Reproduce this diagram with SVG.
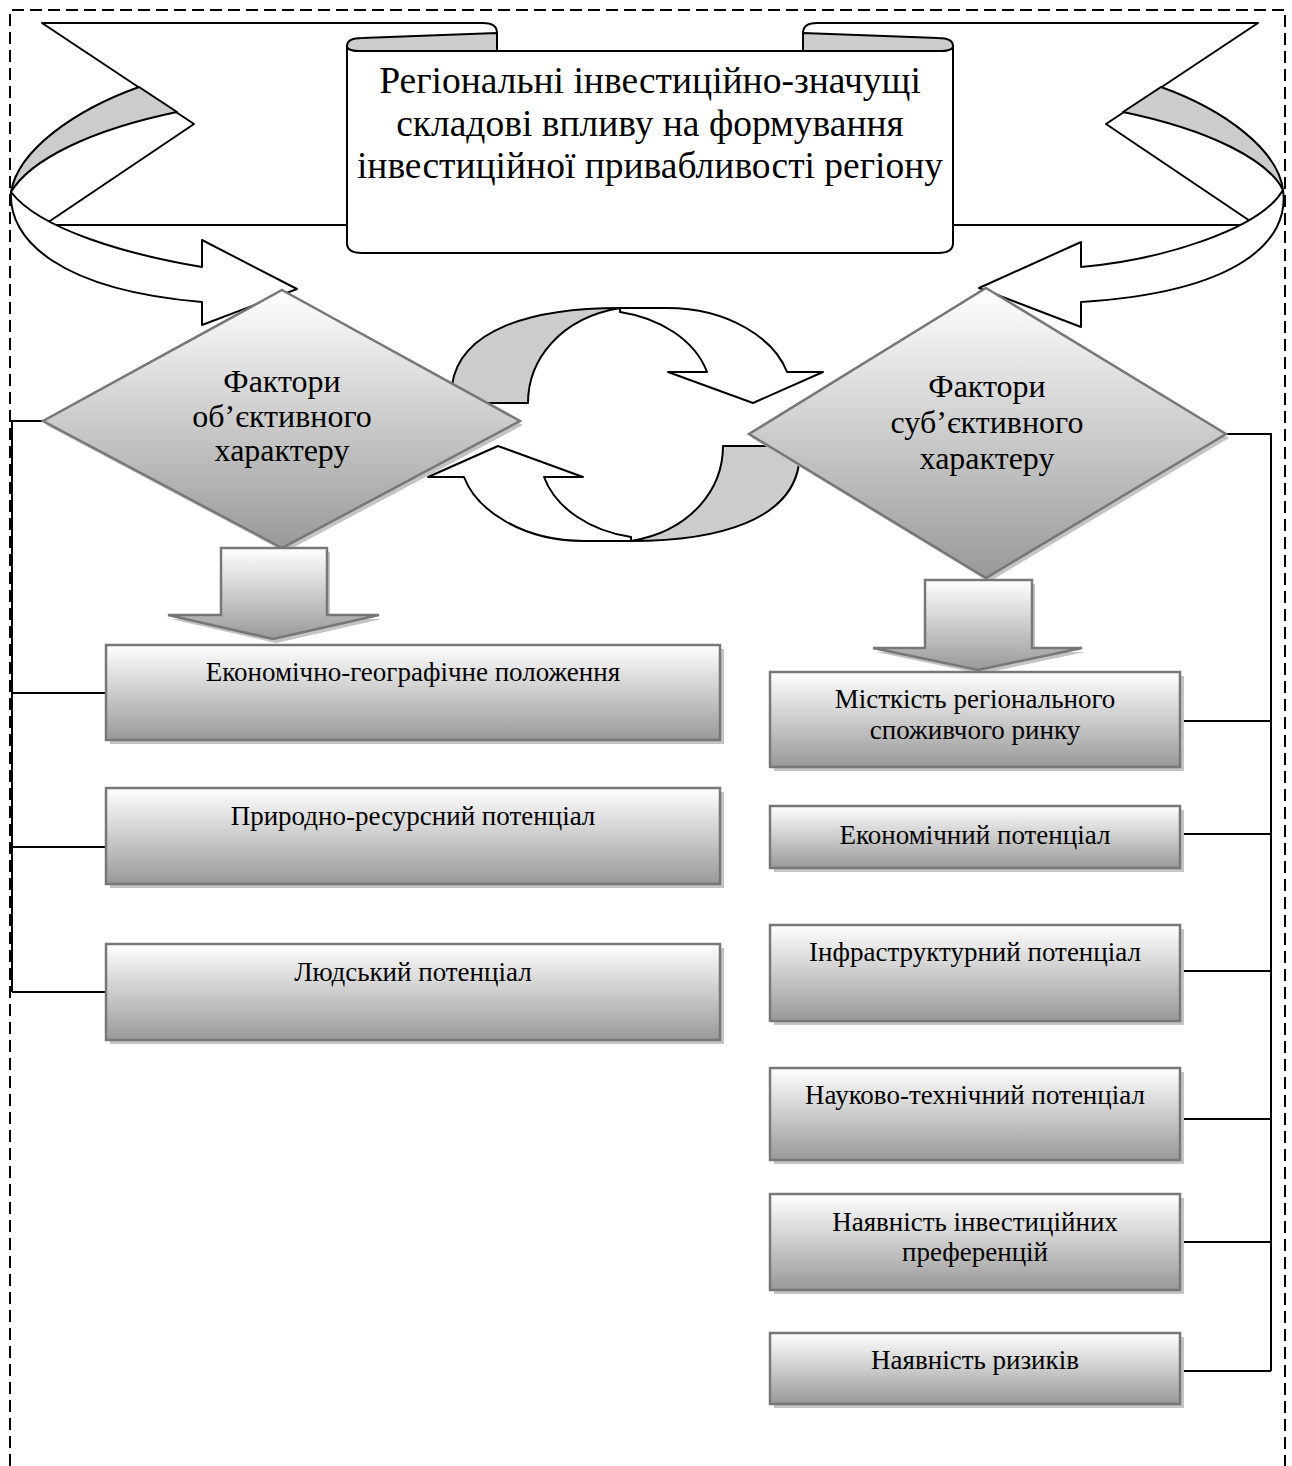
<svg xmlns="http://www.w3.org/2000/svg" width="1292" height="1466" viewBox="0 0 1292 1466">
<defs>
<linearGradient id="gr" x1="0" y1="0" x2="0" y2="1">
<stop offset="0" stop-color="#ffffff"/>
<stop offset="1" stop-color="#999999"/>
</linearGradient>
<style>
.t{font-family:"Liberation Serif","Times New Roman",serif;fill:#000;text-anchor:middle}
.ol{fill:#fff;stroke:#000;stroke-width:2;stroke-linejoin:round}
.gy{fill:#cccccc;stroke:#000;stroke-width:2;stroke-linejoin:round}
.nd{fill:url(#gr);stroke:#777;stroke-width:2.5}
.sh{fill:#c4c4c4}
.cn{fill:none;stroke:#000;stroke-width:2}
</style>
</defs>
<rect width="1292" height="1466" fill="#fff"/>
<path d="M10,1466 V10 H1285 V1466" fill="none" stroke="#000" stroke-width="2" stroke-dasharray="12,6"/>

<g id="banner">
<path class="ol" d="M42,23 H483 Q497,23 497,33 V225 H44 L194,124 Z"/>
<path class="ol" d="M1258,23 H817 Q803,23 803,33 V225 H1256 L1106,124 Z"/>
<path class="gy" d="M139,87 C75,110 18,150 11,192 C30,160 90,130 177,112 Z"/>
<path class="ol" d="M11,192 C8,240 60,290 202,302 L202,325 L297,289 L202,240 L202,267 C130,255 40,230 11,192 Z"/>
<path class="gy" d="M1161,87 C1225,110 1278,150 1283,190 C1268,160 1210,130 1123,112 Z"/>
<path class="ol" d="M1283,190 C1290,240 1240,292 1081,302 L1081,327 L979,288 L1081,242 L1081,267 C1160,260 1260,230 1283,190 Z"/>
<path class="ol" d="M347,46 V243 Q347,253 362,253 H938 Q953,253 953,243 V46 Q953,51 938,51 H362 Q347,51 347,46 Z"/>
<path class="gy" d="M347,46 Q347,38 362,38 L497,33 V51 H362 Q347,51 347,46 Z"/>
<path class="gy" d="M953,46 Q953,38 938,38 L803,33 V51 H938 Q953,51 953,46 Z"/>
<text class="t" font-size="37.5" x="650" y="93">Регіональні інвестиційно-значущі</text>
<text class="t" font-size="37.5" x="650" y="136">складові впливу на формування</text>
<text class="t" font-size="37.5" x="650" y="178">інвестиційної привабливості регіону</text>
</g>

<g id="cycle">
<g id="arrow-top">
<path class="gy" d="M452,403 L452,385 C460,330 530,308 620,308 C560,318 528,360 528,403 Z"/>
<path class="ol" d="M620,308 L667,308 C730,308 775,340 787,372 L823,372 L753,403 L668,372 L707,372 C695,340 660,318 620,312 Z"/>
</g>
<g id="arrow-bottom" transform="rotate(180 625.5 424.5)">
<path class="gy" d="M452,403 L452,385 C460,330 530,308 620,308 C560,318 528,360 528,403 Z"/>
<path class="ol" d="M620,308 L667,308 C730,308 775,340 787,372 L823,372 L753,403 L668,372 L707,372 C695,340 660,318 620,312 Z"/>
</g>
</g>

<g id="connectors">
<path class="cn" d="M43,421 H12 V992 M12,693 H106 M12,847 H106 M12,992 H106"/>
<path class="cn" d="M1226,434 H1271 V1371 M1180,721 H1271 M1180,834 H1271 M1180,971 H1271 M1180,1119 H1271 M1180,1242 H1271 M1180,1371 H1271"/>
</g>

<g id="diamond-left">
<polygon class="sh" points="285,294 523,425 285,552 46,425"/>
<polygon class="nd" points="282,290 520,421 282,548 43,421"/>
<text class="t" font-size="32" x="282" y="392">Фактори</text>
<text class="t" font-size="32" x="282" y="427">об’єктивного</text>
<text class="t" font-size="32" x="282" y="461">характеру</text>
</g>

<g id="diamond-right">
<polygon class="sh" points="989,292 1229,438 989,582 752,438"/>
<polygon class="nd" points="986,288 1226,434 986,578 749,434"/>
<text class="t" font-size="32" x="987" y="397">Фактори</text>
<text class="t" font-size="32" x="987" y="433">суб’єктивного</text>
<text class="t" font-size="32" x="987" y="469">характеру</text>
</g>

<g id="down-left">
<path class="sh" d="M224,552 H330 V619 H382 L276,643 L171,619 H224 Z"/>
<path class="nd" d="M221,548 H327 V615 H379 L273,639 L168,615 H221 Z"/>
</g>
<g id="down-right">
<path class="sh" d="M928,584 H1035 V652 H1085 L981,674 L876,652 H928 Z"/>
<path class="nd" d="M925,580 H1032 V648 H1082 L978,670 L873,648 H925 Z"/>
</g>

<g id="box-l1">
<rect class="sh" x="110" y="649" width="614" height="95"/>
<rect class="nd" x="106" y="645" width="614" height="95"/>
<text class="t" font-size="27" x="413" y="681">Економічно-географічне положення</text>
</g>
<g id="box-l2">
<rect class="sh" x="110" y="792" width="614" height="96"/>
<rect class="nd" x="106" y="788" width="614" height="96"/>
<text class="t" font-size="27" x="413" y="825">Природно-ресурсний потенціал</text>
</g>
<g id="box-l3">
<rect class="sh" x="110" y="948" width="614" height="96"/>
<rect class="nd" x="106" y="944" width="614" height="96"/>
<text class="t" font-size="27" x="413" y="981">Людський потенціал</text>
</g>

<g id="box-r1">
<rect class="sh" x="774" y="676" width="410" height="95"/>
<rect class="nd" x="770" y="672" width="410" height="95"/>
<text class="t" font-size="27" x="975" y="708">Місткість регіонального</text>
<text class="t" font-size="27" x="975" y="739">споживчого ринку</text>
</g>
<g id="box-r2">
<rect class="sh" x="774" y="810" width="410" height="62"/>
<rect class="nd" x="770" y="806" width="410" height="62"/>
<text class="t" font-size="27" x="975" y="844">Економічний потенціал</text>
</g>
<g id="box-r3">
<rect class="sh" x="774" y="929" width="410" height="96"/>
<rect class="nd" x="770" y="925" width="410" height="96"/>
<text class="t" font-size="27" x="975" y="961">Інфраструктурний потенціал</text>
</g>
<g id="box-r4">
<rect class="sh" x="774" y="1072" width="410" height="92"/>
<rect class="nd" x="770" y="1068" width="410" height="92"/>
<text class="t" font-size="27" x="975" y="1104">Науково-технічний потенціал</text>
</g>
<g id="box-r5">
<rect class="sh" x="774" y="1198" width="410" height="96"/>
<rect class="nd" x="770" y="1194" width="410" height="96"/>
<text class="t" font-size="27" x="975" y="1231">Наявність інвестиційних</text>
<text class="t" font-size="27" x="975" y="1261">преференцій</text>
</g>
<g id="box-r6">
<rect class="sh" x="774" y="1337" width="410" height="71"/>
<rect class="nd" x="770" y="1333" width="410" height="71"/>
<text class="t" font-size="27" x="975" y="1369">Наявність ризиків</text>
</g>
</svg>
